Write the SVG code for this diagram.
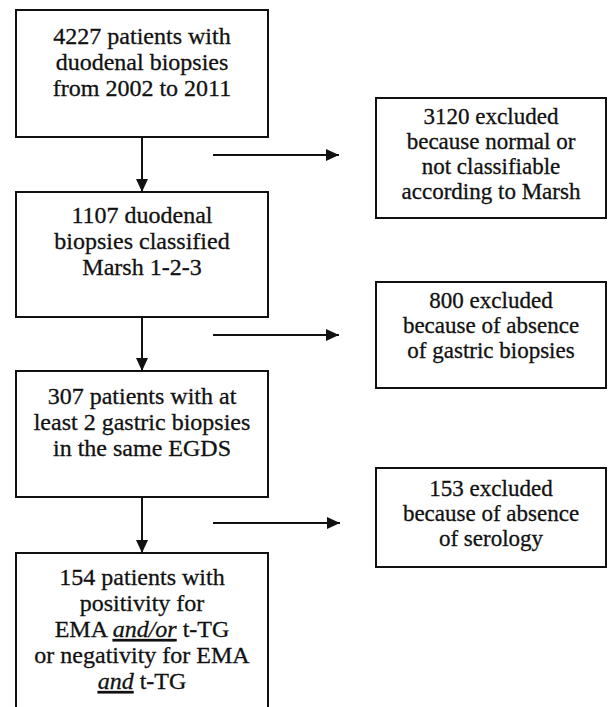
<svg xmlns="http://www.w3.org/2000/svg" width="609" height="707" viewBox="0 0 609 707">
<style>
rect.box{fill:#fff;stroke:#111;stroke-width:2}
text{font-family:"Liberation Serif","Times New Roman",serif;font-size:24px;fill:#111;stroke:#111;stroke-width:0.3;text-anchor:middle}
text.r{font-size:23px}
.conn line{stroke:#111;stroke-width:2}
.u{font-style:italic;text-decoration:underline}
</style>
<defs>
<marker id="ah" markerUnits="userSpaceOnUse" markerWidth="14" markerHeight="12" refX="13" refY="6" orient="auto">
<path d="M0,0 L13,6 L0,12 Z" fill="#111"/>
</marker>
</defs>
<rect width="609" height="707" fill="#fff"/>
<g id="n1"><rect class="box" x="16" y="10" width="252" height="127"/>
<text x="142" y="44">4227 patients with</text><text x="142" y="70">duodenal biopsies</text><text x="142" y="96">from 2002 to 2011</text></g>
<g id="n2"><rect class="box" x="16" y="192" width="252" height="125"/>
<text x="142" y="223">1107 duodenal</text><text x="142" y="249">biopsies classified</text><text x="142" y="275">Marsh 1-2-3</text></g>
<g id="n3"><rect class="box" x="16" y="371" width="252" height="126"/>
<text x="142" y="404">307 patients with at</text><text x="142" y="430">least 2 gastric biopsies</text><text x="142" y="456">in the same EGDS</text></g>
<g id="n4"><rect class="box" x="16" y="553" width="252" height="170"/>
<text x="142" y="585">154 patients with</text><text x="142" y="611">positivity for</text>
<text x="142" y="637">EMA <tspan class="u">and/or</tspan> t-TG</text>
<text x="142" y="663">or negativity for EMA</text>
<text x="142" y="689"><tspan class="u">and</tspan> t-TG</text></g>
<g id="e1"><rect class="box" x="376" y="98" width="230" height="120"/>
<text class="r" x="491" y="124">3120 excluded</text><text class="r" x="491" y="149">because normal or</text><text class="r" x="491" y="174">not classifiable</text><text class="r" x="491" y="199">according to Marsh</text></g>
<g id="e2"><rect class="box" x="376" y="282" width="230" height="106"/>
<text class="r" x="491" y="308">800 excluded</text><text class="r" x="491" y="333">because of absence</text><text class="r" x="491" y="358">of gastric biopsies</text></g>
<g id="e3"><rect class="box" x="376" y="468" width="230" height="99"/>
<text class="r" x="491" y="496">153 excluded</text><text class="r" x="491" y="521">because of absence</text><text class="r" x="491" y="546">of serology</text></g>
<g id="connectors" class="conn">
<line x1="142" y1="137" x2="142" y2="192" marker-end="url(#ah)"/>
<line x1="142" y1="317" x2="142" y2="371" marker-end="url(#ah)"/>
<line x1="142" y1="497" x2="142" y2="553" marker-end="url(#ah)"/>
<line x1="213" y1="155" x2="339" y2="155" marker-end="url(#ah)"/>
<line x1="213" y1="335" x2="339" y2="335" marker-end="url(#ah)"/>
<line x1="213" y1="523" x2="340" y2="523" marker-end="url(#ah)"/>
</g>
</svg>
